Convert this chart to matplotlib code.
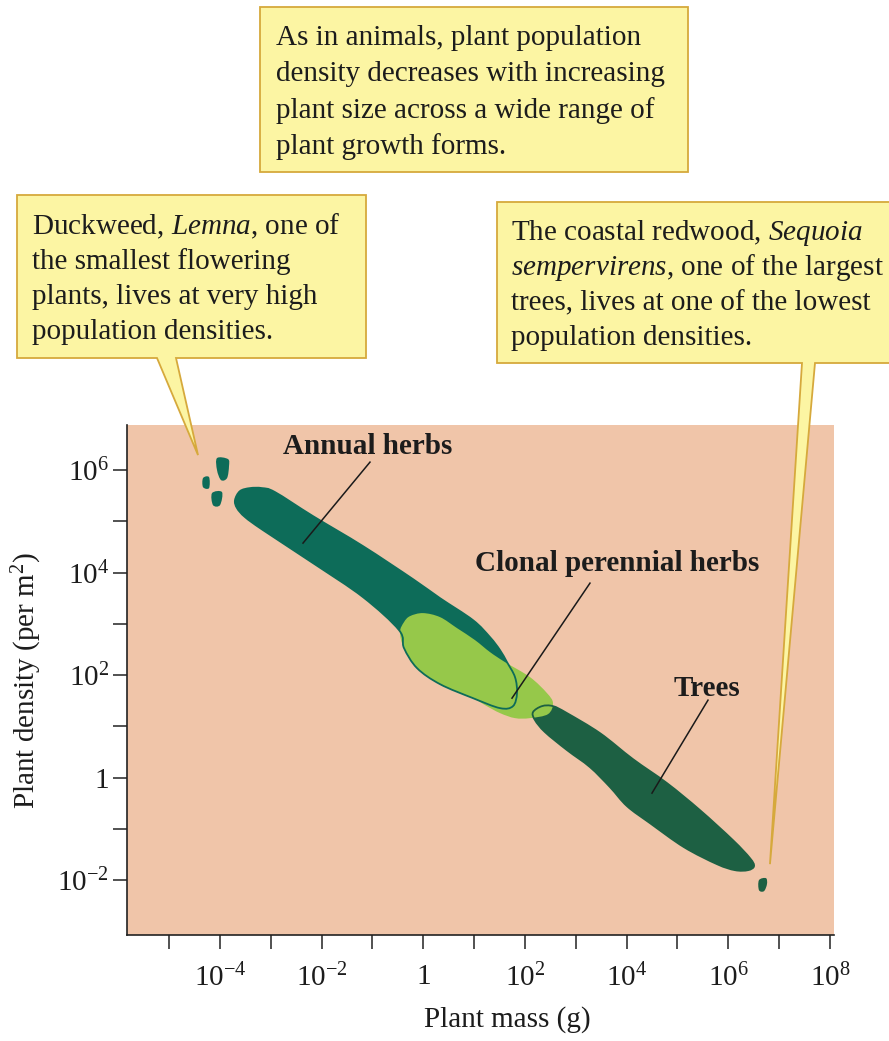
import numpy as np
import matplotlib
matplotlib.use("Agg")
import matplotlib.pyplot as plt
from matplotlib.path import Path
from matplotlib.patches import PathPatch, Polygon
from matplotlib.transforms import IdentityTransform

plt.rcParams['font.family'] = ['Liberation Serif', 'DejaVu Serif']
plt.rcParams['mathtext.fontset'] = 'custom'
plt.rcParams['mathtext.rm'] = 'Liberation Serif'
plt.rcParams['mathtext.it'] = 'Liberation Serif:italic'
plt.rcParams['mathtext.bf'] = 'Liberation Serif:bold'

# ---------------- data: outlines ----------------
# (log10 plant mass [g], log10 plant density [per m^2])
annual_log_mass = [-3.705, -3.607, -3.410, -3.174, -2.918, -2.170, -1.187, -0.203, 0.328,
                   0.977, 1.312, 1.509, 1.646, 1.804, 1.843, 1.764, 1.509, 0.977, 0.328,
                   -0.124, -0.380, -0.478, -1.187, -2.170, -3.154, -3.508, -3.666]
annual_log_density = [5.415, 5.590, 5.649, 5.649, 5.571, 5.102, 4.517, 3.873, 3.502,
                      3.073, 2.741, 2.488, 2.254, 1.961, 1.649, 1.395, 1.356, 1.551, 1.824,
                      2.137, 2.527, 2.878, 3.522, 4.185, 4.829, 5.083, 5.259]

clonal_log_mass = [-0.380, -0.262, -0.006, 0.328, 0.663, 1.017, 1.312, 1.607, 2.099, 2.433,
                   2.551, 2.453, 2.099, 1.804, 1.509, 1.213, 0.977, 0.328, -0.124, -0.380,
                   -0.459]
clonal_log_density = [3.034, 3.151, 3.210, 3.132, 2.917, 2.683, 2.449, 2.254, 1.961, 1.649,
                      1.454, 1.239, 1.161, 1.161, 1.259, 1.415, 1.551, 1.824, 2.137, 2.527,
                      2.839]

trees_log_mass = [2.158, 2.335, 2.551, 2.827, 3.476, 4.125, 4.794, 5.443, 6.092, 6.427, 6.506,
                  6.388, 6.132, 5.778, 5.128, 4.459, 4.007, 3.673, 3.279, 2.827, 2.394, 2.197]
trees_log_density = [1.278, 1.395, 1.395, 1.259, 0.868, 0.361, -0.107, -0.634, -1.220, -1.571,
                     -1.727, -1.805, -1.805, -1.688, -1.356, -0.888, -0.556, -0.185, 0.205,
                     0.537, 0.888, 1.122]

duckweed1_log_mass = [-4.059, -3.843, -3.823, -3.862, -3.980, -4.059]
duckweed1_log_density = [6.234, 6.215, 6.078, 5.844, 5.805, 6.000]
duckweed2_log_mass = [-4.334, -4.216, -4.216, -4.334]
duckweed2_log_density = [5.844, 5.863, 5.649, 5.668]
duckweed3_log_mass = [-4.157, -3.961, -4.000, -4.138]
duckweed3_log_density = [5.551, 5.571, 5.317, 5.317]

redwood_log_mass = [6.604, 6.742, 6.761, 6.702, 6.604]
redwood_log_density = [-2.000, -1.961, -2.078, -2.215, -2.195]

x_tick_exp = list(range(-5, 9))
x_label_exp = [-4, -2, 0, 2, 4, 6, 8]
y_tick_exp = list(range(-2, 7))
y_label_exp = [-2, 0, 2, 4, 6]

group_names = ["Annual herbs", "Clonal perennial herbs", "Trees"]
group_label_log_mass = [-1.088, 3.810, 5.581]
group_label_log_density = [6.468, 4.185, 1.746]
leader_start_log_mass = [-1.049, 3.279, 5.601]
leader_start_log_density = [6.156, 3.795, 1.512]
leader_end_log_mass = [-2.367, 1.745, 4.499]
leader_end_log_density = [4.576, 1.551, -0.302]

duckweed_tip_log = (-4.433, 6.293)
redwood_tip_log = (6.820, -1.688)

note_top = ["As in animals, plant population",
            "density decreases with increasing",
            "plant size across a wide range of",
            "plant growth forms."]
note_duckweed = [r"Duckweed, $\mathit{Lemna}$, one of",
                 "the smallest flowering",
                 "plants, lives at very high",
                 "population densities."]
note_redwood = [r"The coastal redwood, $\mathit{Sequoia}$",
                r"$\mathit{sempervirens}$, one of the largest",
                "trees, lives at one of the lowest",
                "population densities."]

# ---------------- styling ----------------
C_PINK = "#f0c5a9"
C_ANNUAL = "#0d6c59"
C_CLONAL = "#96c84a"
C_TREES = "#1d6043"
C_BOX = "#fcf5a3"
C_BOXEDGE = "#d6a93c"
C_TEXT = "#1c1c1c"
FS = 21

W, H = 889, 1041
fig = plt.figure(figsize=(W / 100, H / 100), dpi=100)
fig.patch.set_facecolor("white")
ax = fig.add_axes([127 / W, (H - 935) / H, (834 - 127) / W, (935 - 425) / H])
ax.set_facecolor(C_PINK)
ax.set_xscale("log")
ax.set_yscale("log")
ax.set_xlim(10 ** -5.83, 10 ** 8.08)
ax.set_ylim(10 ** -3.07, 10 ** 6.88)


def smooth_path(lx, ly):
    P = np.column_stack([lx, ly]).astype(float)
    n = len(P)
    verts = [P[0]]
    codes = [Path.MOVETO]
    for i in range(n):
        p0, p1, p2, p3 = P[i - 1], P[i], P[(i + 1) % n], P[(i + 2) % n]
        verts += [p1 + (p2 - p0) / 6.0, p2 - (p3 - p1) / 6.0, p2]
        codes += [Path.CURVE4] * 3
    verts.append(P[0])
    codes.append(Path.CLOSEPOLY)
    return Path(10 ** np.array(verts), codes)


ax.add_patch(PathPatch(smooth_path(annual_log_mass, annual_log_density),
                       facecolor=C_ANNUAL, edgecolor="none", zorder=2))
ax.add_patch(PathPatch(smooth_path(trees_log_mass, trees_log_density),
                       facecolor=C_TREES, edgecolor="none", zorder=2))
ax.add_patch(PathPatch(smooth_path(clonal_log_mass, clonal_log_density),
                       facecolor=C_CLONAL, edgecolor="none", zorder=3))
ax.add_patch(PathPatch(smooth_path(annual_log_mass, annual_log_density),
                       facecolor="none", edgecolor=C_ANNUAL, lw=1.3, zorder=4))
ax.add_patch(PathPatch(smooth_path(trees_log_mass, trees_log_density),
                       facecolor="none", edgecolor=C_TREES, lw=1.3, zorder=4))
for bx, by in [(duckweed1_log_mass, duckweed1_log_density),
               (duckweed2_log_mass, duckweed2_log_density),
               (duckweed3_log_mass, duckweed3_log_density)]:
    ax.add_patch(PathPatch(smooth_path(bx, by), facecolor=C_ANNUAL, edgecolor="none", zorder=3))
ax.add_patch(PathPatch(smooth_path(redwood_log_mass, redwood_log_density),
                       facecolor=C_TREES, edgecolor="none", zorder=3))

for name, gx, gy, sx, sy, ex, ey in zip(group_names, group_label_log_mass, group_label_log_density,
                                        leader_start_log_mass, leader_start_log_density,
                                        leader_end_log_mass, leader_end_log_density):
    ax.text(10 ** gx, 10 ** gy, name, fontsize=FS, fontweight="bold", color=C_TEXT,
            ha="center", va="center", zorder=6)
    ax.plot([10 ** sx, 10 ** ex], [10 ** sy, 10 ** ey], color="#1a1a1a", lw=1.1, zorder=6)

# axes / ticks
for s in ["top", "right"]:
    ax.spines[s].set_visible(False)
for s in ["left", "bottom"]:
    ax.spines[s].set_linewidth(1.2)
    ax.spines[s].set_color("#222222")


def exp_label(e):
    return "$1$" if e == 0 else r"$10^{%d}$" % e


ax.set_xticks([10.0 ** e for e in x_tick_exp],
              [exp_label(e) if e in x_label_exp else "" for e in x_tick_exp])
ax.set_yticks([10.0 ** e for e in y_tick_exp],
              [exp_label(e) if e in y_label_exp else "" for e in y_tick_exp])
ax.minorticks_off()
ax.tick_params(axis="both", which="major", direction="out", length=10, width=1.1,
               color="#222222", labelsize=FS, labelcolor=C_TEXT)
ax.tick_params(axis="x", pad=11)
ax.tick_params(axis="y", pad=3)

ax.set_xlabel("Plant mass (g)", fontsize=FS, color=C_TEXT)
ax.set_ylabel(r"Plant density (per m$^2$)", fontsize=FS, color=C_TEXT)
ax.xaxis.set_label_coords((507 - 127) / 707, (935 - 1006) / 510)
ax.yaxis.set_label_coords((44 - 127) / 707, 0.5)

# ---------------- callout boxes (figure pixel layout) ----------------
def to_disp(x, y):
    return (x, H - y)


def data_tip(t):
    return ax.transData.transform((10 ** t[0], 10 ** t[1]))


tip1 = data_tip(duckweed_tip_log)
tip2 = data_tip(redwood_tip_log)

box_top = [to_disp(260, 7), to_disp(688, 7), to_disp(688, 172), to_disp(260, 172)]
box_duck = [to_disp(17, 195), to_disp(366, 195), to_disp(366, 358), to_disp(176, 358),
            tuple(tip1), to_disp(157, 358), to_disp(17, 358)]
box_red = [to_disp(497, 202), to_disp(895, 202), to_disp(895, 363), to_disp(815, 363),
           tuple(tip2), to_disp(802, 363), to_disp(497, 363)]
for verts in [box_top, box_duck, box_red]:
    fig.add_artist(Polygon(verts, closed=True, facecolor=C_BOX, edgecolor=C_BOXEDGE,
                           lw=1.3, transform=IdentityTransform(), zorder=5))


def put_lines(lines, x, y0, dy):
    for i, line in enumerate(lines):
        fig.text(x / W, 1 - (y0 + i * dy) / H, line, fontsize=FS, color=C_TEXT,
                 ha="left", va="baseline", zorder=6)


put_lines(note_top, 276, 45, 36.3)
put_lines(note_duckweed, 32, 234, 35)
put_lines(note_redwood, 511, 240, 35)

fig.savefig("out.png", dpi=100, facecolor="white")
